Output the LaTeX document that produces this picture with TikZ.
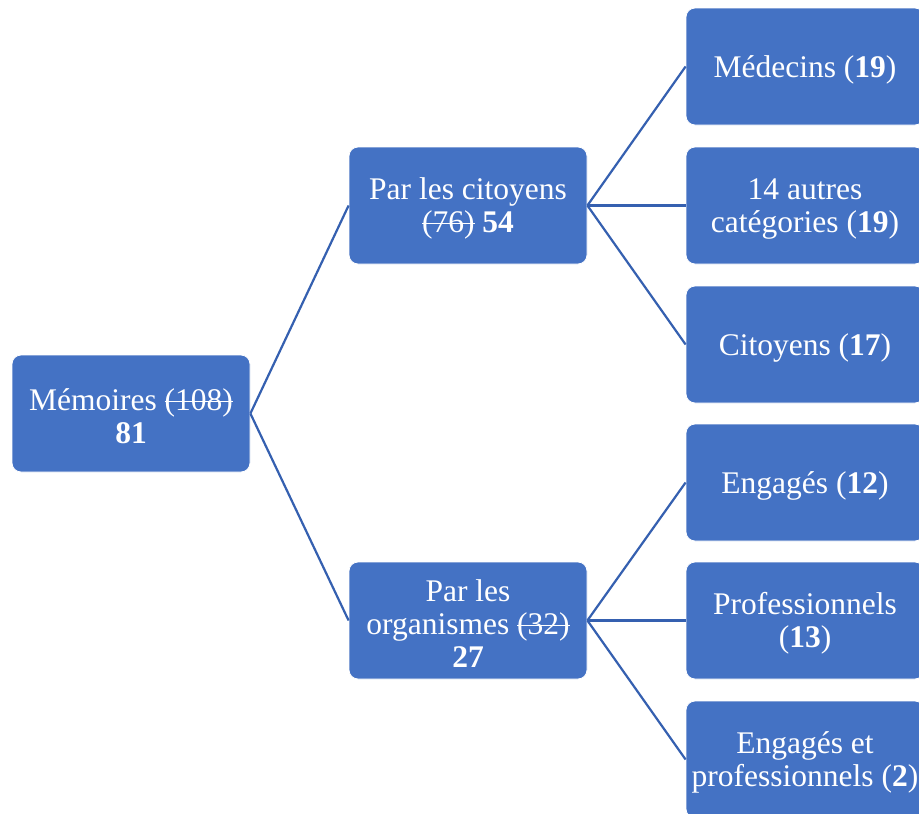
\documentclass[tikz,border=0pt]{standalone}
\usepackage{fontspec}
\setmainfont{Liberation Serif}
\newcommand{\strk}[1]{\setbox0\hbox{#1}\rlap{\raisebox{0.27em}{\rule{\wd0}{1.3pt}}}\box0\relax}
\definecolor{boxblue}{HTML}{4472C4}
\definecolor{lineblue}{HTML}{3560B0}
\begin{document}
\begin{tikzpicture}[x=1pt,y=-1pt,
  box/.style={rectangle, rounded corners=9pt, fill=boxblue, draw=white, line width=0.8pt,
    minimum width=238pt, minimum height=117pt, inner sep=0pt},
  txt/.style={align=center, text=white, inner sep=0pt, yshift=-3pt,
    font=\fontsize{31.5}{33}\selectfont},
  link/.style={draw=lineblue, line width=2.2pt}]
\clip (0,0) rectangle (919,814);
\fill[white] (0,0) rectangle (919,814);
\node[box] (root) at (131,413.5) {};
\node[box] (cit) at (468,205.5) {};
\node[box] (org) at (468,620.5) {};
\node[box] (r1) at (805,66.5) {};
\node[box] (r2) at (805,205.5) {};
\node[box] (r3) at (805,344.5) {};
\node[box] (r4) at (805,482.5) {};
\node[box] (r5) at (805,620.5) {};
\node[box] (r6) at (805,759.5) {};
\node[txt] (root-t) at (root) {Mémoires \strk{(108)}\\\textbf{81}};
\node[txt] (cit-t) at (cit) {Par les citoyens\\\strk{(76)} \textbf{54}};
\node[txt] (org-t) at (org) {Par les\\organismes \strk{(32)}\\\textbf{27}};
\node[txt] (r1-t) at (r1) {Médecins (\textbf{19})};
\node[txt] (r2-t) at (r2) {14 autres\\catégories (\textbf{19})};
\node[txt] (r3-t) at (r3) {Citoyens (\textbf{17})};
\node[txt] (r4-t) at (r4) {Engagés (\textbf{12})};
\node[txt] (r5-t) at (r5) {Professionnels\\(\textbf{13})};
\node[txt] (r6-t) at (r6) {Engagés et\\professionnels (\textbf{2})};
\draw[link] (root.east) -- (cit.west);
\draw[link] (root.east) -- (org.west);
\draw[link] (cit.east) -- (r1.west);
\draw[link] (cit.east) -- (r2.west);
\draw[link] (cit.east) -- (r3.west);
\draw[link] (org.east) -- (r4.west);
\draw[link] (org.east) -- (r5.west);
\draw[link] (org.east) -- (r6.west);
\end{tikzpicture}
\end{document}
